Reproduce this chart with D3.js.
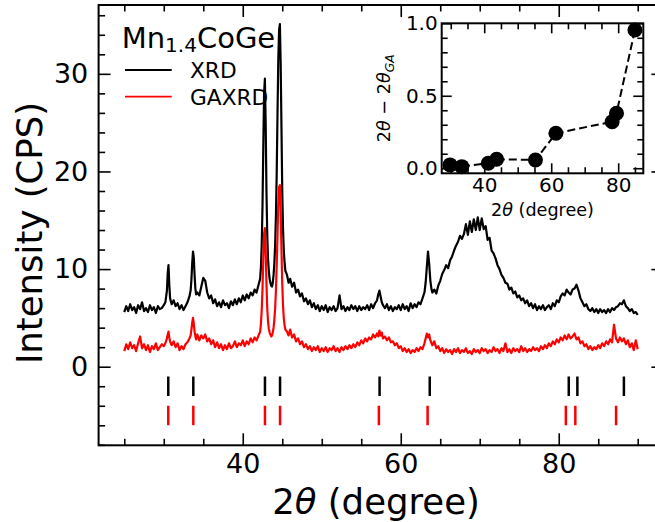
<!DOCTYPE html>
<html><head><meta charset="utf-8">
<script src="https://cdn.jsdelivr.net/npm/d3@7"></script>
<style>
body{margin:0;background:#fff;}
svg{display:block;font-family:"DejaVu Sans",sans-serif;}
</style>
</head><body>
<svg id="chart" width="655" height="522"></svg>
<script>
// ---- data ----
const twoTheta = [
25,25.25,25.5,25.75,26,26.25,26.5,26.75,27,27.25,27.5,27.75,28,28.25,28.5,28.75,29,29.25,29.5,29.75,30,
30.2,30.4,30.5,30.6,30.7,30.8,31,
31.25,31.5,31.75,32,32.25,32.5,32.75,33,33.25,
33.4,33.5,33.6,33.7,33.8,33.9,34,34.1,34.25,
34.5,34.75,35,35.25,35.5,35.75,36,36.25,36.5,36.75,37,37.25,37.5,37.75,38,38.25,38.5,38.75,39,39.25,39.5,39.75,40,40.25,40.5,40.75,41,41.25,41.5,41.75,42,
42.2,42.3,42.4,42.5,42.6,42.7,42.8,42.9,43,43.1,43.2,43.3,43.4,43.5,43.6,43.7,43.8,43.9,44,44.1,44.2,44.3,44.4,44.5,44.6,44.7,44.8,44.9,45,45.1,45.2,45.3,45.4,
45.6,45.8,46,46.25,46.5,46.75,47,47.25,47.5,47.75,48,48.25,48.5,48.75,49,49.25,49.5,49.75,50,50.25,50.5,50.75,51,51.25,51.5,51.75,52,52.25,52.5,52.75,53,53.25,53.5,53.75,54,54.25,54.5,54.75,55,55.25,55.5,55.75,56,56.25,56.5,56.75,
57,57.15,57.3,57.45,57.6,57.75,
58,58.25,58.5,58.75,59,59.25,59.5,59.75,60,60.25,60.5,60.75,61,61.25,61.5,61.75,62,62.25,62.5,62.75,63,
63.15,63.3,63.45,63.6,63.75,63.9,
64,64.25,64.5,64.75,65,65.25,65.5,65.75,66,66.25,66.5,66.75,67,67.25,67.5,67.75,68,68.25,68.5,68.75,69,69.25,69.5,69.75,70,70.25,70.5,70.75,71,71.25,71.5,71.75,72,72.25,72.5,72.75,73,73.25,73.5,73.75,74,74.25,74.5,74.75,75,75.25,75.5,75.75,76,76.25,76.5,76.75,77,77.25,77.5,77.75,78,78.25,78.5,78.75,79,79.25,79.5,79.75,80,80.25,80.5,80.75,81,81.25,81.5,81.75,82,82.25,82.5,82.75,83,83.25,83.5,83.75,84,84.25,84.5,84.75,85,85.25,85.5,85.75,86,86.25,86.5,86.75,87,87.25,87.5,87.75,88,88.25,88.5,88.75,89,89.25,89.5,89.75,90
];
const xrdCps = [
5.6,6.2,5.7,6.4,5.8,6.1,5.5,6.3,5.9,6.6,5.7,6.0,5.6,6.3,5.8,6.1,5.5,6.2,5.9,6.0,6.3,
6.6,7.8,9.6,10.4,8.4,7.0,6.4,
6.8,6.2,6.5,5.9,6.3,5.8,6.2,6.6,7.2,
7.8,8.9,10.6,11.8,11.2,9.4,8.0,7.4,7.6,
7.3,8.2,9.1,8.8,7.6,7.0,7.3,6.5,6.9,6.2,6.6,6.1,6.8,6.3,6.5,6.0,6.7,6.3,6.9,6.4,7.0,6.6,7.3,6.8,7.4,7.0,7.6,7.3,7.9,7.6,8.4,
9.0,10.2,12.5,16.5,22.5,28.0,29.5,25.0,18.0,13.5,11.0,9.8,9.0,8.6,8.3,8.2,8.6,9.4,10.6,12.5,15.5,20.0,26.0,31.5,34.5,35.1,31.0,24.5,18.0,14.0,11.8,10.6,9.8,
9.4,8.6,9.0,8.2,8.6,7.6,7.9,7.2,7.5,6.7,7.0,6.4,6.8,6.1,6.5,5.9,6.3,5.7,6.2,5.8,6.3,5.6,6.1,5.8,6.2,5.7,6.0,7.3,5.9,6.2,5.7,6.1,5.8,6.3,5.9,6.2,5.7,6.2,5.8,6.1,5.9,6.3,5.8,6.4,6.0,6.5,
6.8,7.4,7.8,7.2,6.6,6.3,
6.0,6.4,5.8,6.2,5.7,6.1,5.9,6.3,5.8,6.4,5.9,6.2,5.7,6.5,6.0,6.4,6.1,6.6,6.4,7.0,7.6,
8.6,10.2,11.8,10.5,8.8,7.9,
7.6,7.9,7.5,8.3,8.8,9.5,9.9,10.4,10.1,10.9,11.3,11.9,12.4,12.8,13.4,13.1,13.6,14.6,13.5,14.9,13.8,15.1,14.0,15.3,14.0,15.2,14.1,14.4,13.0,13.2,11.9,11.6,11.1,10.4,10.0,9.4,9.1,8.6,8.5,7.9,8.1,7.5,7.7,7.1,7.3,6.8,7.0,6.5,6.8,6.2,6.5,6.0,6.4,5.8,6.2,5.9,6.3,5.8,6.1,6.3,5.9,6.5,6.2,6.8,6.6,7.2,7.5,7.3,7.9,7.6,7.4,7.9,8.0,8.4,7.8,7.0,6.6,6.2,6.4,5.9,5.7,6.0,5.6,5.9,5.5,5.9,5.6,5.8,5.5,5.9,5.6,6.0,5.8,6.1,6.2,6.5,6.4,6.8,6.2,6.0,5.7,5.9,5.5,5.6,5.3
];
const gaxrdCps = [
1.6,2.3,1.8,2.5,1.9,2.2,1.6,2.4,3.1,1.9,2.3,1.7,2.2,1.5,2.1,1.8,2.4,1.7,2.0,2.3,2.1,
2.4,2.9,3.3,3.6,3.0,2.6,2.2,
2.6,2.0,2.4,1.7,2.1,1.8,2.3,2.5,2.9,
3.2,3.8,4.5,5.0,4.4,3.6,3.1,2.8,3.3,
2.7,3.2,2.9,3.3,2.6,2.9,2.3,2.7,2.0,2.5,1.9,2.3,1.7,2.2,1.8,2.4,1.9,2.1,2.6,2.0,2.4,2.2,2.7,2.1,2.6,2.3,2.9,2.5,3.0,2.7,3.2,
3.6,4.4,5.8,8.0,11.0,13.6,14.2,12.0,8.5,6.0,4.6,3.9,3.5,3.3,3.1,3.2,3.5,4.0,4.8,6.0,7.8,10.5,13.5,16.8,18.4,18.6,16.0,12.0,8.5,6.2,4.9,4.2,3.8,
3.6,3.2,3.8,3.0,3.3,2.6,2.9,2.3,2.6,2.0,2.3,1.8,2.1,1.6,2.0,1.7,2.1,1.5,1.9,1.6,2.0,1.5,1.9,1.7,2.1,1.6,1.9,1.5,2.0,1.7,2.1,1.8,2.2,1.9,2.3,2.0,2.5,2.2,2.7,2.4,2.9,2.6,3.0,2.8,3.3,3.0,
3.4,3.1,3.7,3.2,3.5,2.9,
3.1,2.7,3.0,2.5,2.6,2.2,2.4,1.9,2.1,1.6,1.9,1.5,1.8,1.4,1.7,1.5,1.9,1.6,2.0,1.8,2.4,
2.9,3.4,3.0,3.3,2.7,2.4,
2.2,2.6,1.9,2.1,1.6,1.9,1.4,1.8,1.5,1.7,1.3,1.8,1.5,1.9,1.4,1.7,1.5,1.9,1.4,1.6,1.3,1.8,1.5,1.7,1.4,1.9,1.6,1.8,1.4,1.7,1.5,2.0,1.6,1.8,1.4,1.9,1.6,2.4,1.5,1.8,1.4,1.9,1.6,1.8,1.5,2.1,1.6,1.9,1.5,1.8,1.6,2.0,1.7,1.9,1.6,2.1,1.8,2.2,1.9,2.4,2.1,2.6,2.3,2.8,2.5,3.0,2.7,3.2,2.8,3.3,2.9,3.1,3.4,2.8,3.0,2.4,2.6,2.1,2.3,1.8,2.1,1.7,2.0,1.8,2.2,1.9,2.4,2.1,2.6,2.3,2.8,2.5,4.3,2.9,2.5,3.0,2.6,2.9,2.3,2.7,2.0,2.4,1.7,2.7,1.8
];
const xrdPeaks   = [30.57, 33.74, 42.81, 44.72, 57.32, 63.67, 81.27, 82.36, 88.25];
const gaxrdPeaks = [30.57, 33.74, 42.81, 44.72, 57.23, 63.40, 80.90, 82.10, 87.26];
const xrdMarkRange = [-1, -3];
const gaxrdMarkRange = [-4, -6];
const insetAngle = [29.8, 33.3, 41.2, 43.7, 55.3, 61.4, 78.2, 79.5, 85.0];
const insetShift = [0.023, 0.011, 0.034, 0.062, 0.057, 0.241, 0.321, 0.379, 0.954];
const mainXMajor = [40, 60, 80];
const mainXMinor = [25, 30, 35, 45, 50, 55, 65, 70, 75, 85, 90];
const mainYMajor = [0, 10, 20, 30];
const mainYMinor = [-8, -6, -4, -2, 2, 4, 6, 8, 12, 14, 16, 18, 22, 24, 26, 28, 32, 34, 36];
const insetXMajor = [40, 60, 80];
const insetXMinor = [30, 35, 45, 50, 55, 65, 70, 75, 85];
const insetYMajor = [0, 0.5, 1.0];
const insetYMinor = [0.1, 0.2, 0.3, 0.4, 0.6, 0.7, 0.8, 0.9];
const seriesNames = ["XRD", "GAXRD"];
const seriesColors = ["#000000", "#ff0000"];

// ---- layout ----
const svg = d3.select("#chart");
const FONT = '"DejaVu Sans", sans-serif';
const M = {left: 98.6, right: 663.4, top: 5, bottom: 445.3};
const x = d3.scaleLinear().domain([21.75, 93.25]).range([M.left, M.right]);
const y = d3.scaleLinear().domain([-8.05, 37.05]).range([M.bottom, M.top]);

svg.append("defs").append("clipPath").attr("id", "clipMain")
  .append("rect").attr("x", M.left).attr("y", M.top)
  .attr("width", M.right - M.left).attr("height", M.bottom - M.top);

function styleAxis(g, fs) {
  g.select(".domain").remove();
  g.selectAll(".tick line").attr("stroke", "#000").attr("stroke-width", 1.6);
  g.selectAll(".tick text").attr("font-family", FONT).attr("font-size", fs).attr("fill", "#000");
}
function axes(xs, ys, box, xMaj, xMin, yMaj, yMin, maj, min, fs, xPad, yPad, yFmt) {
  svg.append("g").attr("transform", `translate(0,${box.bottom})`)
    .call(d3.axisBottom(xs).tickValues(xMin).tickSizeInner(-min).tickSizeOuter(0).tickFormat(""))
    .call(g => styleAxis(g, fs));
  svg.append("g").attr("transform", `translate(0,${box.bottom})`)
    .call(d3.axisBottom(xs).tickValues(xMaj).tickSizeInner(-maj).tickSizeOuter(0).tickPadding(xPad).tickFormat(d3.format("d")))
    .call(g => styleAxis(g, fs));
  svg.append("g").attr("transform", `translate(0,${box.top})`)
    .call(d3.axisTop(xs).tickValues(xMin).tickSizeInner(-min).tickSizeOuter(0).tickFormat(""))
    .call(g => styleAxis(g, fs));
  svg.append("g").attr("transform", `translate(0,${box.top})`)
    .call(d3.axisTop(xs).tickValues(xMaj).tickSizeInner(-maj).tickSizeOuter(0).tickFormat(""))
    .call(g => styleAxis(g, fs));
  svg.append("g").attr("transform", `translate(${box.left},0)`)
    .call(d3.axisLeft(ys).tickValues(yMin).tickSizeInner(-min).tickSizeOuter(0).tickFormat(""))
    .call(g => styleAxis(g, fs));
  svg.append("g").attr("transform", `translate(${box.left},0)`)
    .call(d3.axisLeft(ys).tickValues(yMaj).tickSizeInner(-maj).tickSizeOuter(0).tickPadding(yPad).tickFormat(yFmt))
    .call(g => styleAxis(g, fs));
  svg.append("g").attr("transform", `translate(${box.right},0)`)
    .call(d3.axisRight(ys).tickValues(yMin).tickSizeInner(-min).tickSizeOuter(0).tickFormat(""))
    .call(g => styleAxis(g, fs));
  svg.append("g").attr("transform", `translate(${box.right},0)`)
    .call(d3.axisRight(ys).tickValues(yMaj).tickSizeInner(-maj).tickSizeOuter(0).tickFormat(""))
    .call(g => styleAxis(g, fs));
  svg.append("rect").attr("x", box.left).attr("y", box.top)
    .attr("width", box.right - box.left).attr("height", box.bottom - box.top)
    .attr("fill", "none").attr("stroke", "#000").attr("stroke-width", 2);
}

// ---- main curves ----
const n = Math.min(twoTheta.length, xrdCps.length, gaxrdCps.length);
const idx = d3.range(n);
const line = (vals) => d3.line().x(i => x(twoTheta[i])).y(i => y(vals[i]));
const plot = svg.append("g").attr("clip-path", "url(#clipMain)");
plot.append("path").datum(idx).attr("d", line(xrdCps))
  .attr("fill", "none").attr("stroke", seriesColors[0]).attr("stroke-width", 2.2).attr("stroke-linejoin", "round");
plot.append("path").datum(idx).attr("d", line(gaxrdCps))
  .attr("fill", "none").attr("stroke", seriesColors[1]).attr("stroke-width", 2.2).attr("stroke-linejoin", "round");

plot.selectAll(".pkx").data(xrdPeaks).join("line")
  .attr("x1", d => x(d)).attr("x2", d => x(d))
  .attr("y1", y(xrdMarkRange[0])).attr("y2", y(xrdMarkRange[1]))
  .attr("stroke", seriesColors[0]).attr("stroke-width", 2.5);
plot.selectAll(".pkg").data(gaxrdPeaks).join("line")
  .attr("x1", d => x(d)).attr("x2", d => x(d))
  .attr("y1", y(gaxrdMarkRange[0])).attr("y2", y(gaxrdMarkRange[1]))
  .attr("stroke", seriesColors[1]).attr("stroke-width", 2.5);

axes(x, y, M, mainXMajor, mainXMinor, mainYMajor, mainYMinor, 12, 6.5, 27, 9, 10.3, d3.format("d"));

svg.append("text").attr("x", 376).attr("y", 513.5)
  .attr("text-anchor", "middle").attr("font-family", FONT).attr("font-size", 35.5)
  .call(t => { t.append("tspan").text("2"); t.append("tspan").attr("font-style", "italic").text("θ"); t.append("tspan").text(" (degree)"); });
svg.append("text").attr("transform", `translate(42,233) rotate(-90)`)
  .attr("text-anchor", "middle").attr("font-family", FONT).attr("font-size", 35.5)
  .text("Intensity (CPS)");

const lg = svg.append("g");
lg.append("text").attr("x", 121.7).attr("y", 48.3).attr("font-family", FONT).attr("font-size", 29)
  .call(t => {
    t.append("tspan").text("Mn");
    t.append("tspan").attr("font-size", 20).attr("dy", 4).text("1.4");
    t.append("tspan").attr("dy", -4).text("CoGe");
  });
seriesNames.forEach((name, i) => {
  const ly = 70 + i * 26.7;
  lg.append("line").attr("x1", 125).attr("x2", 171.7).attr("y1", ly).attr("y2", ly)
    .attr("stroke", seriesColors[i]).attr("stroke-width", 1.8);
  lg.append("text").attr("x", 190).attr("y", ly + 7.8).attr("font-family", FONT).attr("font-size", 21.7).text(name);
});

// ---- inset ----
const I = {left: 441.7, right: 643.3, top: 23.3, bottom: 173.3};
svg.append("rect").attr("x", I.left).attr("y", I.top).attr("width", I.right - I.left)
  .attr("height", I.bottom - I.top).attr("fill", "#fff");
const xi = d3.scaleLinear().domain([27.3, 87.5]).range([I.left, I.right]);
const yi = d3.scaleLinear().domain([-0.035, 1.0]).range([I.bottom, I.top]);
const ig = svg.append("g");
ig.append("path").datum(d3.range(insetAngle.length))
  .attr("d", d3.line().x(i => xi(insetAngle[i])).y(i => yi(insetShift[i])))
  .attr("fill", "none").attr("stroke", "#000").attr("stroke-width", 2).attr("stroke-dasharray", "8,4");
ig.selectAll("circle").data(d3.range(insetAngle.length)).join("circle")
  .attr("cx", i => xi(insetAngle[i])).attr("cy", i => yi(insetShift[i])).attr("r", 7.5).attr("fill", "#000");

axes(xi, yi, I, insetXMajor, insetXMinor, insetYMajor, insetYMinor, 10, 6, 20, 5, 4, d3.format(".1f"));

svg.append("text").attr("x", (I.left + I.right) / 2).attr("y", 216)
  .attr("text-anchor", "middle").attr("font-family", FONT).attr("font-size", 17.6)
  .call(t => { t.append("tspan").text("2"); t.append("tspan").attr("font-style", "italic").text("θ"); t.append("tspan").text(" (degree)"); });
svg.append("text").attr("transform", `translate(390,${(I.top + I.bottom) / 2}) rotate(-90)`)
  .attr("text-anchor", "middle").attr("font-family", FONT).attr("font-size", 17.6)
  .call(t => {
    t.append("tspan").text("2");
    t.append("tspan").attr("font-style", "italic").text("θ");
    t.append("tspan").text(" − 2");
    t.append("tspan").attr("font-style", "italic").text("θ");
    t.append("tspan").attr("font-style", "italic").attr("font-size", 12.3).attr("dy", 4).text("GA");
  });
</script>
</body></html>
